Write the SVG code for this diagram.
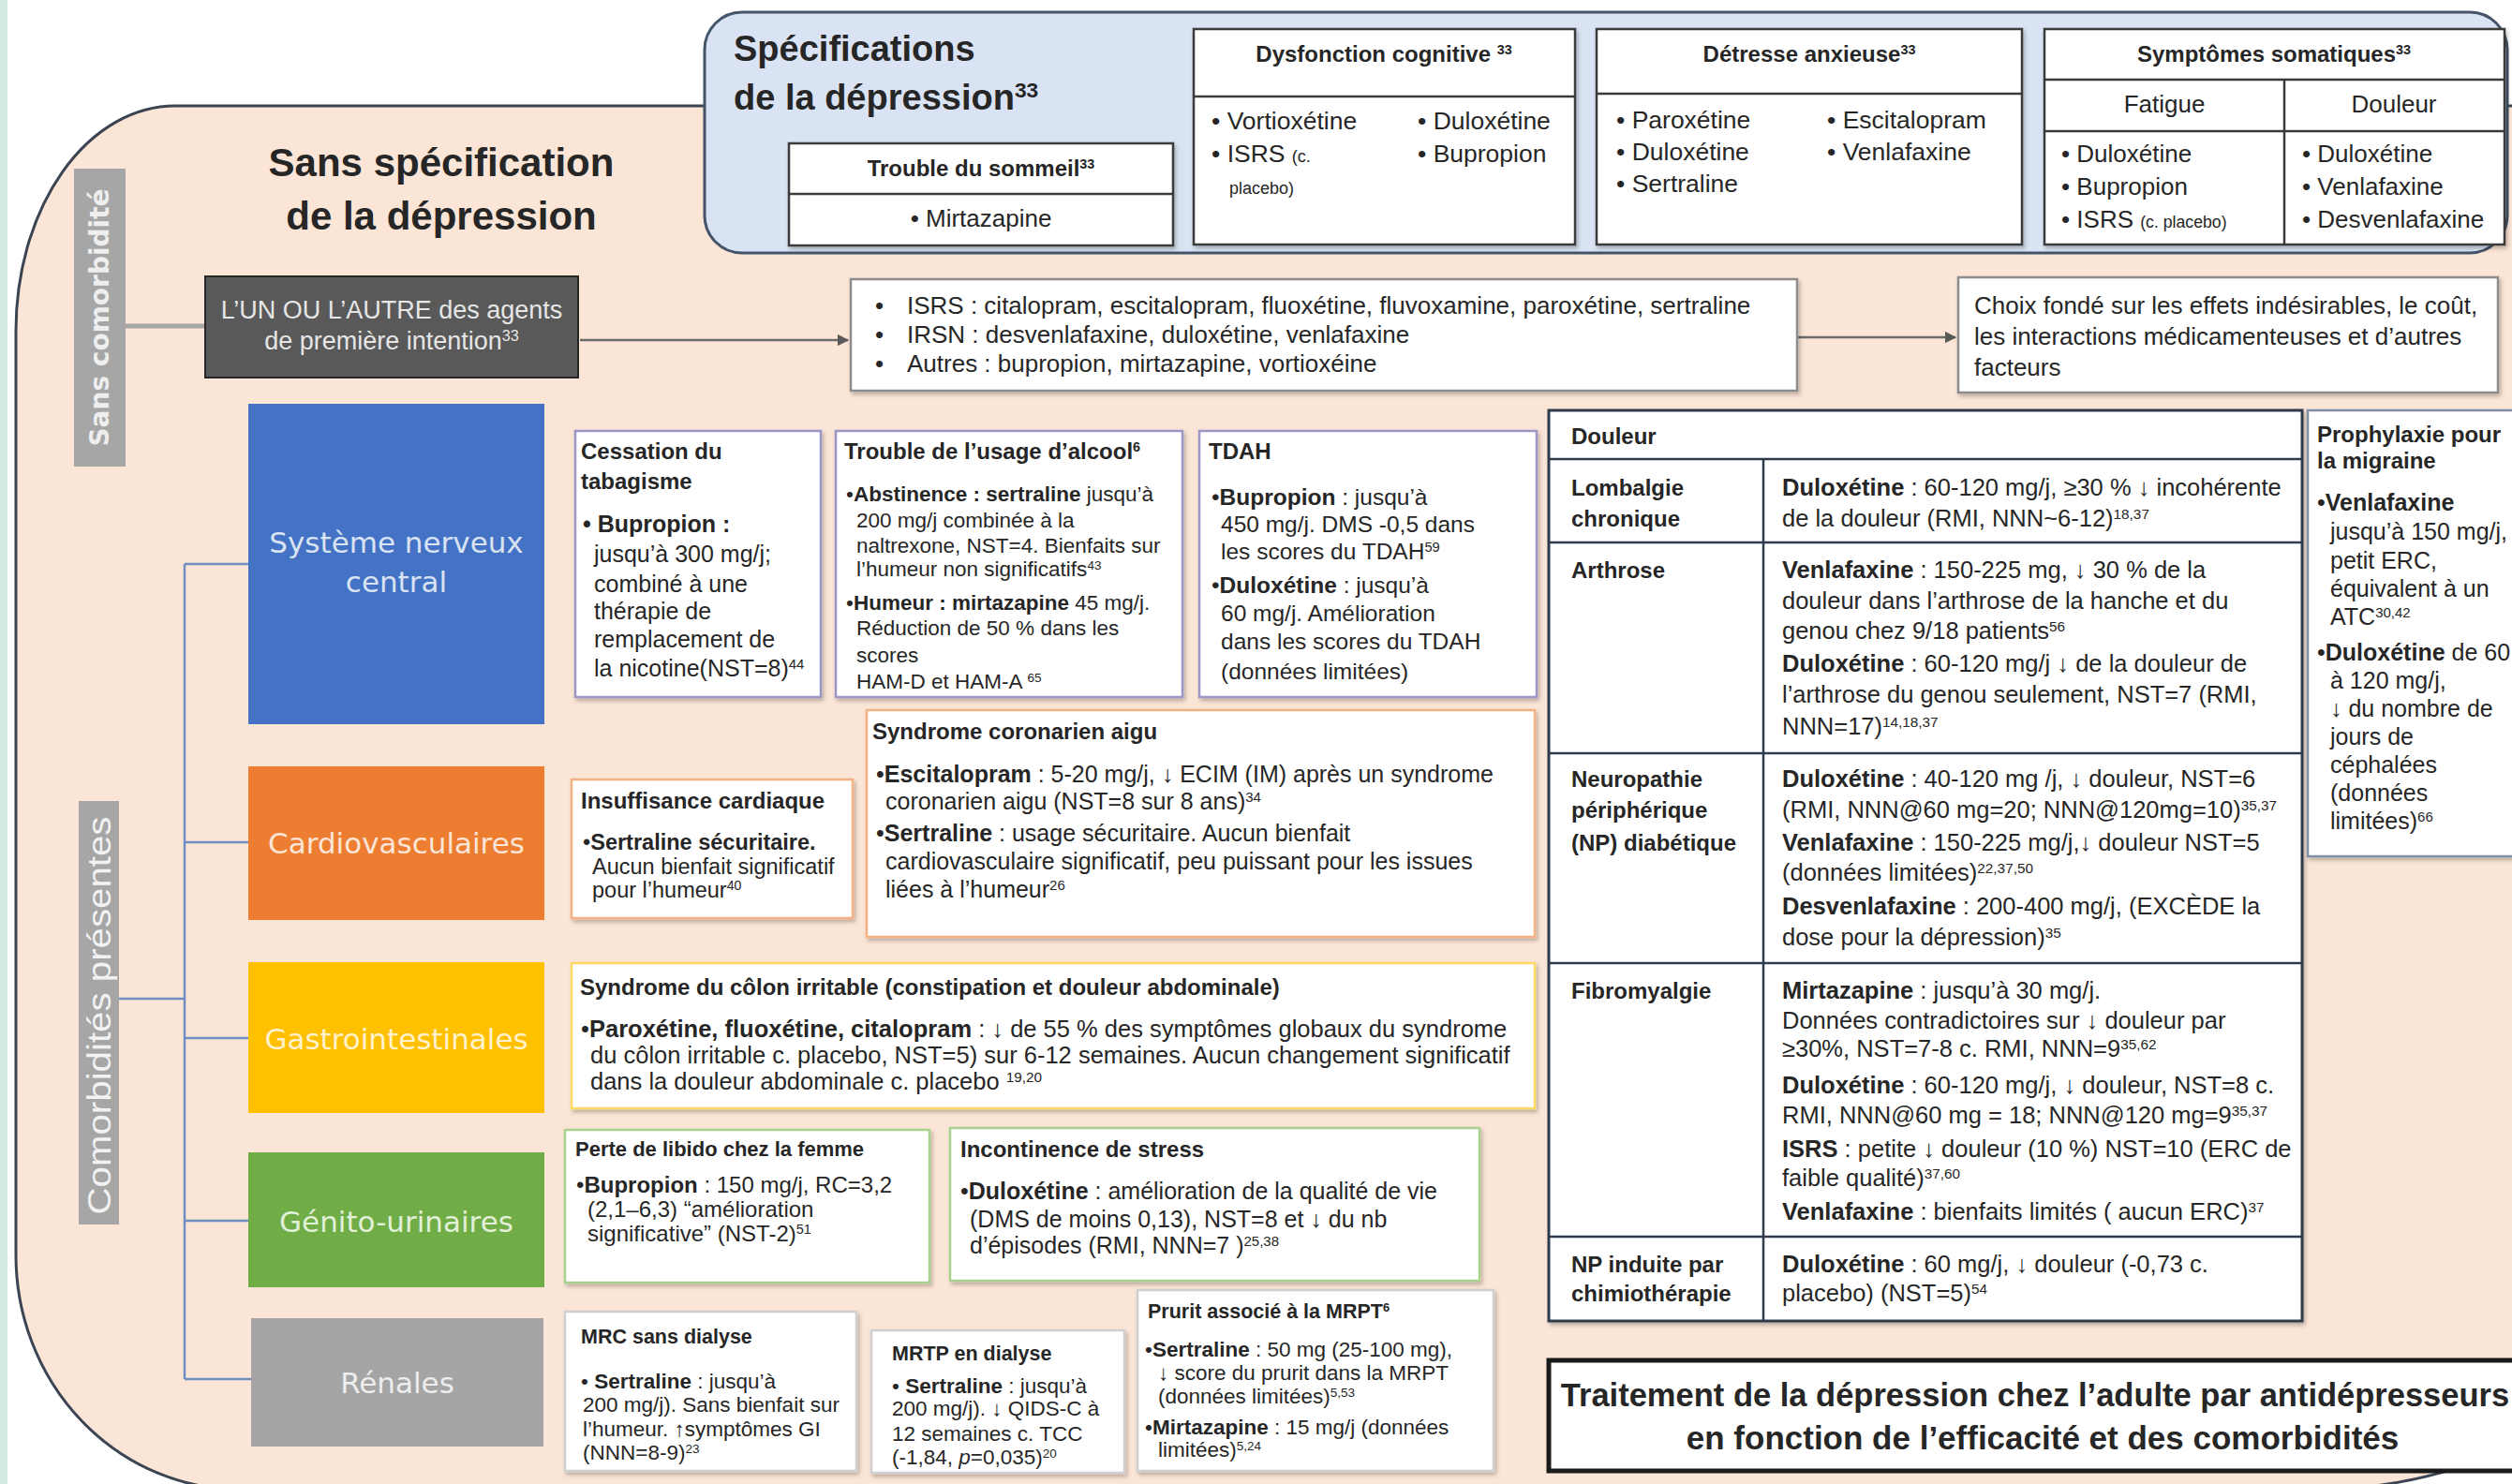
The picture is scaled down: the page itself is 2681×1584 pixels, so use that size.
<svg xmlns="http://www.w3.org/2000/svg" width="2681" height="1584" viewBox="0 0 2681 1584">
<defs>
<style>
text{font-family:'Liberation Sans',Arial,sans-serif;fill:#262626}
.b{font-weight:bold}
.c{text-anchor:middle}
.sup{font-size:60%;baseline-shift:super}
.sm{font-size:68%}
.cat{font-family:'DejaVu Sans',Verdana,sans-serif;font-size:31px;text-anchor:middle}
.wb{fill:#fff;filter:url(#sh)}
.cns{stroke:#9a96c6;stroke-width:2.5}
.cv{stroke:#f4b183;stroke-width:2.5}
.gi{stroke:#ffd966;stroke-width:2.5}
.gu{stroke:#a9d18e;stroke-width:2.5}
.rn{stroke:#cfcfcf;stroke-width:2.5}
.tb{fill:#fff;stroke:#3a3a3a;stroke-width:2.5;filter:url(#sh)}
.tl{stroke:#3a3a3a;stroke-width:2.5}
.dl{stroke:#2f3b4c;stroke-width:2.5}
.con{stroke:#6f8fc4;stroke-width:2.5;fill:none}
</style>
<filter id="sh" x="-5%" y="-5%" width="115%" height="115%"><feDropShadow dx="2" dy="3" stdDeviation="2" flood-color="#000" flood-opacity="0.25"/></filter>
<marker id="arr" viewBox="0 0 10 10" refX="9" refY="5" markerWidth="5" markerHeight="5" orient="auto"><path d="M0,0 L10,5 L0,10z" fill="#595959"/></marker>
</defs>

<rect x="0" y="0" width="2681" height="1584" fill="#fff"/>
<rect x="0" y="0" width="8" height="1584" fill="#d1e9e3"/>

<!-- peach area -->
<path d="M2720,113 L187,113 A170,240 0 0 0 17,353 L17,1340 A240,250 0 0 0 257,1590 L2480,1590 Q2620,1586 2720,1520 Z" fill="#fbe5d6" stroke="#3b4453" stroke-width="3"/>

<!-- specifications panel -->
<g id="spec-panel">
<rect x="752" y="13" width="1924" height="257" rx="40" fill="#dae3f3" stroke="#44546a" stroke-width="3"/>
<text class="b" font-size="38" x="783" y="65">Spécifications</text>
<text class="b" font-size="38" x="783" y="117">de la dépression<tspan class="sup">33</tspan></text>
</g>

<g id="sommeil">
<rect class="tb" x="842" y="153" width="410" height="109"/>
<line class="tl" x1="842" y1="207" x2="1252" y2="207"/>
<text class="b c" font-size="24" x="1047" y="188">Trouble du sommeil<tspan class="sup">33</tspan></text>
<text class="c" font-size="26" x="1047" y="242">• Mirtazapine</text>
</g>

<g id="cognitive">
<rect class="tb" x="1274" y="31" width="407" height="230"/>
<line class="tl" x1="1274" y1="103" x2="1681" y2="103"/>
<text class="b c" font-size="24" x="1477" y="66">Dysfonction cognitive <tspan class="sup">33</tspan></text>
<g font-size="26.5">
<text x="1293" y="138">• Vortioxétine</text>
<text x="1293" y="173">• ISRS <tspan class="sm">(c.</tspan></text>
<text x="1312" y="207" font-size="18">placebo)</text>
<text x="1513" y="138">• Duloxétine</text>
<text x="1513" y="173">• Bupropion</text>
</g>
</g>

<g id="anxieuse">
<rect class="tb" x="1704" y="31" width="454" height="230"/>
<line class="tl" x1="1704" y1="100" x2="2158" y2="100"/>
<text class="b c" font-size="24" x="1931" y="66">Détresse anxieuse<tspan class="sup">33</tspan></text>
<g font-size="26.5">
<text x="1725" y="137">• Paroxétine</text>
<text x="1725" y="171">• Duloxétine</text>
<text x="1725" y="205">• Sertraline</text>
<text x="1950" y="137">• Escitalopram</text>
<text x="1950" y="171">• Venlafaxine</text>
</g>
</g>

<g id="somatiques">
<rect class="tb" x="2182" y="31" width="491" height="230"/>
<line class="tl" x1="2182" y1="85" x2="2673" y2="85"/>
<line class="tl" x1="2182" y1="140" x2="2673" y2="140"/>
<line class="tl" x1="2438" y1="85" x2="2438" y2="261"/>
<text class="b c" font-size="24" x="2427" y="66">Symptômes somatiques<tspan class="sup">33</tspan></text>
<g font-size="26">
<text class="c" x="2310" y="120">Fatigue</text>
<text class="c" x="2555" y="120">Douleur</text>
<text x="2200" y="173">• Duloxétine</text>
<text x="2200" y="208">• Bupropion</text>
<text x="2200" y="243">• ISRS <tspan class="sm">(c. placebo)</tspan></text>
<text x="2457" y="173">• Duloxétine</text>
<text x="2457" y="208">• Venlafaxine</text>
<text x="2457" y="243">• Desvenlafaxine</text>
</g>
</g>

<!-- left titles -->
<g id="sans-spec-title">
<text class="b c" font-size="42" x="471" y="188">Sans spécification</text>
<text class="b c" font-size="42" x="471" y="245">de la dépression</text>
</g>

<g id="label-sans">
<rect x="79" y="180" width="55" height="318" fill="#a6a6a6"/>
<text font-size="28" font-weight="bold" style="fill:#eeeeee;font-family:'DejaVu Sans',Verdana,sans-serif" text-anchor="middle" transform="translate(116,339) rotate(-90)">Sans  comorbidité</text>
</g>

<g id="label-comorb">
<rect x="84" y="855" width="43" height="452" fill="#a6a6a6"/>
<text font-size="35" style="fill:#f2f2f2" text-anchor="middle" textLength="425" lengthAdjust="spacingAndGlyphs" transform="translate(118,1084) rotate(-90)">Comorbidités présentes</text>
</g>

<!-- connectors -->
<g id="connectors">
<line x1="134" y1="348" x2="219" y2="348" stroke="#a6a6a6" stroke-width="5"/>
<line x1="619" y1="363" x2="905" y2="363" stroke="#6b6b6b" stroke-width="2.5" marker-end="url(#arr)"/>
<line x1="1918" y1="360" x2="2087" y2="360" stroke="#6b6b6b" stroke-width="2.5" marker-end="url(#arr)"/>
<path class="con" d="M197,602 V1472 M197,602 H265 M197,899 H265 M197,1108 H265 M197,1303 H265 M197,1472 H268 M127,1066 H197"/>
</g>

<g id="first-line">
<rect x="219" y="295" width="398" height="108" fill="#595959" stroke="#262626" stroke-width="2"/>
<text class="c" font-size="27" style="fill:#e6e6e6" x="418" y="340">L’UN OU L’AUTRE des agents</text>
<text class="c" font-size="27" style="fill:#e6e6e6" x="418" y="373">de première intention<tspan class="sup">33</tspan></text>
</g>

<g id="agents">
<rect class="wb" x="908" y="298" width="1010" height="119" stroke="#8c8c8c" stroke-width="2.5"/>
<g font-size="26">
<text x="934" y="335">•</text><text x="968" y="335">ISRS : citalopram, escitalopram, fluoxétine, fluvoxamine, paroxétine, sertraline</text>
<text x="934" y="366">•</text><text x="968" y="366">IRSN : desvenlafaxine, duloxétine, venlafaxine</text>
<text x="934" y="397">•</text><text x="968" y="397">Autres : bupropion, mirtazapine, vortioxéine</text>
</g>
</g>

<g id="choix">
<rect class="wb" x="2090" y="296" width="576" height="123" stroke="#8c8c8c" stroke-width="2.5"/>
<g font-size="26">
<text x="2107" y="335">Choix fondé sur les effets indésirables, le coût,</text>
<text x="2107" y="368">les interactions médicamenteuses et d’autres</text>
<text x="2107" y="401">facteurs</text>
</g>
</g>

<!-- category nodes -->
<g id="cat-cns">
<rect x="265" y="431" width="316" height="342" fill="#4472c4"/>
<text class="cat" style="fill:#dae3f3;font-family:'DejaVu Sans',Verdana,sans-serif" x="423" y="590">Système nerveux</text>
<text class="cat" style="fill:#dae3f3;font-family:'DejaVu Sans',Verdana,sans-serif" x="423" y="632">central</text>
</g>
<g id="cat-cardio">
<rect x="265" y="818" width="316" height="164" fill="#ed7d31"/>
<text class="cat" style="fill:#fbe5d6;font-family:'DejaVu Sans',Verdana,sans-serif" x="423" y="911">Cardiovasculaires</text>
</g>
<g id="cat-gastro">
<rect x="265" y="1027" width="316" height="161" fill="#ffc000"/>
<text class="cat" style="fill:#fff2cc;font-family:'DejaVu Sans',Verdana,sans-serif" x="423" y="1120">Gastrointestinales</text>
</g>
<g id="cat-genito">
<rect x="265" y="1230" width="316" height="144" fill="#70ad47"/>
<text class="cat" style="fill:#e2f0d9;font-family:'DejaVu Sans',Verdana,sans-serif" x="423" y="1315">Génito-urinaires</text>
</g>
<g id="cat-renal">
<rect x="268" y="1407" width="312" height="137" fill="#a5a5a5"/>
<text class="cat" style="fill:#ededed;font-family:'DejaVu Sans',Verdana,sans-serif" x="424" y="1487">Rénales</text>
</g>

<!-- CNS detail -->
<g id="tabac">
<rect class="wb cns" x="614" y="460" width="262" height="284"/>
<text class="b" font-size="24" x="620" y="490">Cessation du</text>
<text class="b" font-size="24" x="620" y="522">tabagisme</text>
<g font-size="25">
<text class="b" x="622" y="568">• Bupropion :</text>
<text x="634" y="600">jusqu’à 300 mg/j;</text>
<text x="634" y="632">combiné à une</text>
<text x="634" y="661">thérapie de</text>
<text x="634" y="691">remplacement de</text>
<text x="634" y="722">la nicotine(NST=8)<tspan class="sup">44</tspan></text>
</g>
</g>

<g id="alcool">
<rect class="wb cns" x="892" y="460" width="370" height="284"/>
<text class="b" font-size="24" x="901" y="490">Trouble de l’usage d’alcool<tspan class="sup">6</tspan></text>
<g font-size="22.5">
<text x="903" y="535">•<tspan class="b">Abstinence : sertraline</tspan> jusqu’à</text>
<text x="914" y="563">200 mg/j combinée à la</text>
<text x="914" y="590">naltrexone, NST=4. Bienfaits sur</text>
<text x="914" y="615">l’humeur non significatifs<tspan class="sup">43</tspan></text>
<text x="903" y="651">•<tspan class="b">Humeur : mirtazapine</tspan> 45 mg/j.</text>
<text x="914" y="678">Réduction de 50 % dans les</text>
<text x="914" y="707">scores</text>
<text x="914" y="735">HAM-D et HAM-A <tspan class="sup">65</tspan></text>
</g>
</g>

<g id="tdah">
<rect class="wb cns" x="1280" y="460" width="360" height="284"/>
<text class="b" font-size="24" x="1290" y="490">TDAH</text>
<g font-size="24.5">
<text x="1293" y="539">•<tspan class="b">Bupropion</tspan> : jusqu’à</text>
<text x="1303" y="568">450 mg/j. DMS -0,5 dans</text>
<text x="1303" y="597">les scores du TDAH<tspan class="sup">59</tspan></text>
<text x="1293" y="633">•<tspan class="b">Duloxétine</tspan> : jusqu’à</text>
<text x="1303" y="663">60 mg/j. Amélioration</text>
<text x="1303" y="693">dans les scores du TDAH</text>
<text x="1303" y="725">(données limitées)</text>
</g>
</g>

<!-- Cardio detail -->
<g id="insuffisance">
<rect class="wb cv" x="610" y="832" width="300" height="148"/>
<text class="b" font-size="24" x="620" y="863">Insuffisance cardiaque</text>
<g font-size="23.5">
<text x="622" y="907">•<tspan class="b">Sertraline sécuritaire.</tspan></text>
<text x="632" y="933">Aucun bienfait significatif</text>
<text x="632" y="958">pour l’humeur<tspan class="sup">40</tspan></text>
</g>
</g>

<g id="coronarien">
<rect class="wb cv" x="925" y="758" width="713" height="242"/>
<text class="b" font-size="24" x="931" y="789">Syndrome coronarien aigu</text>
<g font-size="25">
<text x="935" y="835">•<tspan class="b">Escitalopram</tspan> : 5-20 mg/j, ↓ ECIM (IM) après un syndrome</text>
<text x="945" y="864">coronarien aigu (NST=8 sur 8 ans)<tspan class="sup">34</tspan></text>
<text x="935" y="898">•<tspan class="b">Sertraline</tspan> : usage sécuritaire. Aucun bienfait</text>
<text x="945" y="928">cardiovasculaire significatif, peu puissant pour les issues</text>
<text x="945" y="958">liées à l’humeur<tspan class="sup">26</tspan></text>
</g>
</g>

<!-- Gastro detail -->
<g id="colon">
<rect class="wb gi" x="610" y="1028" width="1028" height="155"/>
<text class="b" font-size="24" x="619" y="1062">Syndrome du côlon irritable (constipation et douleur abdominale)</text>
<g font-size="25.5">
<text x="620" y="1107">•<tspan class="b">Paroxétine, fluoxétine, citalopram</tspan>  : ↓ de 55 % des symptômes globaux du syndrome</text>
<text x="630" y="1135">du côlon irritable c. placebo, NST=5) sur 6-12 semaines. Aucun changement significatif</text>
<text x="630" y="1163">dans la douleur abdominale c. placebo <tspan class="sup">19,20</tspan></text>
</g>
</g>

<!-- Genito detail -->
<g id="libido">
<rect class="wb gu" x="603" y="1206" width="389" height="163"/>
<text class="b" font-size="22" x="614" y="1234">Perte de libido chez la femme</text>
<g font-size="24">
<text x="615" y="1273">•<tspan class="b">Bupropion</tspan> : 150 mg/j, RC=3,2</text>
<text x="627" y="1299">(2,1–6,3) “amélioration</text>
<text x="627" y="1325">significative” (NST-2)<tspan class="sup">51</tspan></text>
</g>
</g>

<g id="incontinence">
<rect class="wb gu" x="1014" y="1204" width="565" height="163"/>
<text class="b" font-size="24" x="1025" y="1235">Incontinence de stress</text>
<g font-size="25">
<text x="1025" y="1280">•<tspan class="b">Duloxétine</tspan> : amélioration de la qualité de vie</text>
<text x="1035" y="1310">(DMS de moins 0,13), NST=8 et ↓ du nb</text>
<text x="1035" y="1338">d’épisodes (RMI, NNN=7 )<tspan class="sup">25,38</tspan></text>
</g>
</g>

<!-- Renal detail -->
<g id="mrc">
<rect class="wb rn" x="603" y="1400" width="311" height="170"/>
<text class="b" font-size="21.5" x="620" y="1434">MRC sans dialyse</text>
<g font-size="22.5">
<text x="620" y="1482">• <tspan class="b">Sertraline</tspan> : jusqu’à</text>
<text x="622" y="1507">200 mg/j). Sans bienfait sur</text>
<text x="622" y="1533">l’humeur. ↑symptômes GI</text>
<text x="622" y="1558">(NNN=8-9)<tspan class="sup">23</tspan></text>
</g>
</g>

<g id="mrtp">
<rect class="wb rn" x="930" y="1420" width="270" height="152"/>
<text class="b" font-size="21.5" x="952" y="1452">MRTP en dialyse</text>
<g font-size="22.5">
<text x="952" y="1487">• <tspan class="b">Sertraline</tspan> : jusqu’à</text>
<text x="952" y="1511">200 mg/j). ↓ QIDS-C à</text>
<text x="952" y="1538">12 semaines  c. TCC</text>
<text x="952" y="1563">(-1,84, <tspan font-style="italic">p</tspan>=0,035)<tspan class="sup">20</tspan></text>
</g>
</g>

<g id="prurit">
<rect class="wb rn" x="1214" y="1377" width="380" height="193"/>
<text class="b" font-size="21.5" x="1225" y="1407">Prurit associé à la MRPT<tspan class="sup">6</tspan></text>
<g font-size="22.5">
<text x="1222" y="1448">•<tspan class="b">Sertraline</tspan> : 50 mg (25-100 mg),</text>
<text x="1236" y="1473">↓ score du prurit dans la MRPT</text>
<text x="1236" y="1498">(données limitées)<tspan class="sup">5,53</tspan></text>
<text x="1222" y="1531">•<tspan class="b">Mirtazapine</tspan>  : 15 mg/j (données</text>
<text x="1236" y="1555">limitées)<tspan class="sup">5,24</tspan></text>
</g>
</g>

<!-- Douleur table -->
<g id="douleur">
<rect x="1653" y="438" width="804" height="972" fill="#fff" stroke="#2f3b4c" stroke-width="3" filter="url(#sh)"/>
<line class="dl" x1="1653" y1="490" x2="2457" y2="490"/>
<line class="dl" x1="1653" y1="579" x2="2457" y2="579"/>
<line class="dl" x1="1653" y1="804" x2="2457" y2="804"/>
<line class="dl" x1="1653" y1="1028" x2="2457" y2="1028"/>
<line class="dl" x1="1653" y1="1320" x2="2457" y2="1320"/>
<line class="dl" x1="1882" y1="490" x2="1882" y2="1410"/>
<text class="b" font-size="24" x="1677" y="474">Douleur</text>
<g class="b" font-size="24">
<text x="1677" y="529">Lombalgie</text>
<text x="1677" y="562">chronique</text>
<text x="1677" y="617">Arthrose</text>
<text x="1677" y="840">Neuropathie</text>
<text x="1677" y="873">périphérique</text>
<text x="1677" y="908">(NP) diabétique</text>
<text x="1677" y="1066">Fibromyalgie</text>
<text x="1677" y="1358">NP induite par</text>
<text x="1677" y="1389">chimiothérapie</text>
</g>
<g font-size="25.5">
<text x="1902" y="529"><tspan class="b">Duloxétine</tspan> : 60-120 mg/j,  ≥30 % ↓ incohérente</text>
<text x="1902" y="562">de la douleur  (RMI, NNN~6-12)<tspan class="sup">18,37</tspan></text>
<text x="1902" y="617"><tspan class="b">Venlafaxine</tspan> : 150-225 mg, ↓ 30 % de la</text>
<text x="1902" y="650">douleur dans l’arthrose de la hanche et du</text>
<text x="1902" y="682">genou chez 9/18 patients<tspan class="sup">56</tspan></text>
<text x="1902" y="717"><tspan class="b">Duloxétine</tspan> : 60-120 mg/j ↓ de la douleur de</text>
<text x="1902" y="750">l’arthrose du genou seulement, NST=7 (RMI,</text>
<text x="1902" y="784">NNN=17)<tspan class="sup">14,18,37</tspan></text>
<text x="1902" y="840"><tspan class="b">Duloxétine</tspan> : 40-120 mg /j, ↓ douleur, NST=6</text>
<text x="1902" y="873">(RMI, NNN@60 mg=20; NNN@120mg=10)<tspan class="sup">35,37</tspan></text>
<text x="1902" y="908"><tspan class="b">Venlafaxine</tspan> :  150-225 mg/j,↓ douleur NST=5</text>
<text x="1902" y="940">(données limitées)<tspan class="sup">22,37,50</tspan></text>
<text x="1902" y="976"><tspan class="b">Desvenlafaxine</tspan>  : 200-400 mg/j, (EXCÈDE la</text>
<text x="1902" y="1009">dose pour la dépression)<tspan class="sup">35</tspan></text>
<text x="1902" y="1066"><tspan class="b">Mirtazapine</tspan> : jusqu’à 30 mg/j.</text>
<text x="1902" y="1098">Données contradictoires sur ↓ douleur par</text>
<text x="1902" y="1128">≥30%, NST=7-8 c. RMI, NNN=9<tspan class="sup">35,62</tspan></text>
<text x="1902" y="1167"><tspan class="b">Duloxétine</tspan> : 60-120 mg/j, ↓ douleur, NST=8 c.</text>
<text x="1902" y="1199">RMI, NNN@60 mg = 18; NNN@120 mg=9<tspan class="sup">35,37</tspan></text>
<text x="1902" y="1235"><tspan class="b">ISRS</tspan> : petite ↓ douleur (10 %) NST=10 (ERC de</text>
<text x="1902" y="1266">faible qualité)<tspan class="sup">37,60</tspan></text>
<text x="1902" y="1302"><tspan class="b">Venlafaxine</tspan> : bienfaits limités ( aucun ERC)<tspan class="sup">37</tspan></text>
<text x="1902" y="1358"><tspan class="b">Duloxétine</tspan> : 60 mg/j,  ↓ douleur (-0,73 c.</text>
<text x="1902" y="1389">placebo) (NST=5)<tspan class="sup">54</tspan></text>
</g>
</g>

<g id="migraine">
<rect class="wb" x="2463" y="438" width="240" height="476" stroke="#7f8fa6" stroke-width="2.5"/>
<text class="b" font-size="24" x="2473" y="472">Prophylaxie pour</text>
<text class="b" font-size="24" x="2473" y="500">la migraine</text>
<g font-size="25">
<text x="2473" y="545">•<tspan class="b">Venlafaxine</tspan></text>
<text x="2487" y="576">jusqu’à 150 mg/j,</text>
<text x="2487" y="607">petit ERC,</text>
<text x="2487" y="637">équivalent à un</text>
<text x="2487" y="667">ATC<tspan class="sup">30,42</tspan></text>
<text x="2473" y="705">•<tspan class="b">Duloxétine</tspan> de 60</text>
<text x="2487" y="735">à 120 mg/j,</text>
<text x="2487" y="765">↓ du nombre de</text>
<text x="2487" y="795">jours de</text>
<text x="2487" y="825">céphalées</text>
<text x="2487" y="855">(données</text>
<text x="2487" y="885">limitées)<tspan class="sup">66</tspan></text>
</g>
</g>

<g id="title">
<rect x="1653" y="1452" width="1060" height="118" fill="#fff" stroke="#1a1a1a" stroke-width="5"/>
<text class="b c" font-size="34.5" x="2172" y="1501">Traitement de la dépression chez l’adulte par antidépresseurs</text>
<text class="b c" font-size="35" x="2180" y="1547">en fonction de l’efficacité et des comorbidités</text>
</g>
</svg>
